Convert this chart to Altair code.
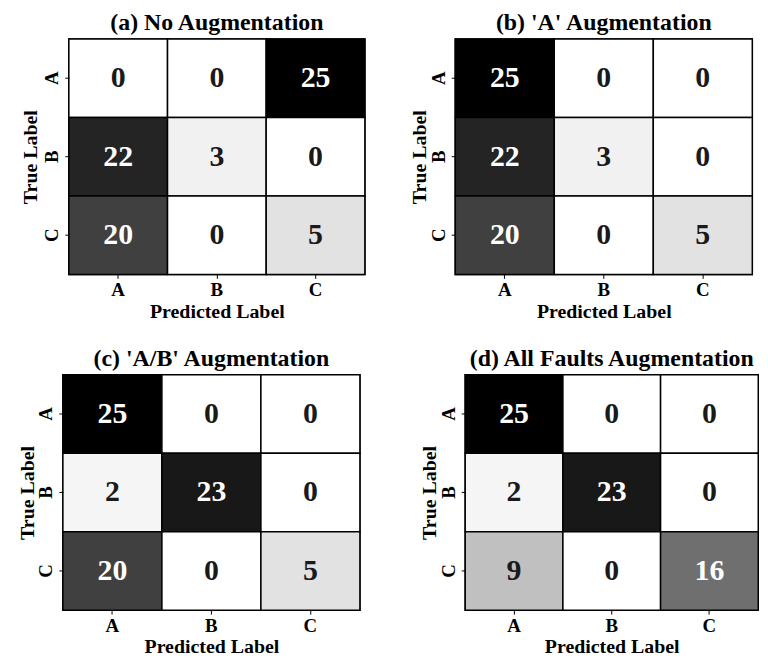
import altair as alt
import pandas as pd

classes = ["A", "B", "C"]
titles = [
    "(a) No Augmentation",
    "(b) 'A' Augmentation",
    "(c) 'A/B' Augmentation",
    "(d) All Faults Augmentation",
]
cm_a = [[0, 0, 25], [22, 3, 0], [20, 0, 5]]
cm_b = [[25, 0, 0], [22, 3, 0], [20, 0, 5]]
cm_c = [[25, 0, 0], [2, 23, 0], [20, 0, 5]]
cm_d = [[25, 0, 0], [2, 23, 0], [9, 0, 16]]

greys = ["#ffffff", "#f0f0f0", "#d9d9d9", "#bdbdbd", "#969696",
         "#737373", "#525252", "#252525", "#000000"]
vmin, vmax = 0, 25
stops = [vmin + (vmax - vmin) * k / 8 for k in range(9)]
thresh = (vmin + vmax) / 2

FONT = "Liberation Serif"


def panel(cm, title, w, h=237, ytitle_pad=0):
    rows = []
    for i in range(3):
        for j in range(3):
            rows.append({"true": classes[i], "pred": classes[j], "value": cm[i][j]})
    df = pd.DataFrame(rows)
    base = alt.Chart(df).encode(
        x=alt.X("pred:N", sort=classes, title="Predicted Label",
                scale=alt.Scale(paddingInner=0, paddingOuter=0),
                axis=alt.Axis(labelAngle=0, orient="bottom",
                              labelPadding=2, titlePadding=2)),
        y=alt.Y("true:N", sort=classes, title="True Label",
                scale=alt.Scale(paddingInner=0, paddingOuter=0),
                axis=alt.Axis(labelAngle=270, labelAlign="center",
                              labelBaseline="bottom", titlePadding=ytitle_pad)),
    )
    rect = base.mark_rect(stroke="black", strokeWidth=1.5).encode(
        color=alt.Color("value:Q",
                        scale=alt.Scale(domain=stops, range=greys, interpolate="rgb"),
                        legend=None)
    )
    text = base.mark_text(font=FONT, fontWeight="bold", fontSize=30,
                          baseline="middle", align="center").encode(
        text="value:Q",
        color=alt.condition(alt.datum.value > thresh,
                            alt.value("white"), alt.value("#1a1a1a")),
    )
    return alt.layer(rect, text).properties(
        width=w, height=h,
        title=alt.TitleParams(title, font=FONT, fontWeight="bold", fontSize=24,
                              color="black", anchor="middle", offset=3),
    )


row1 = alt.hconcat(panel(cm_a, titles[0], 298, ytitle_pad=3),
                   panel(cm_b, titles[1], 299), spacing=42)
row2 = alt.hconcat(panel(cm_c, titles[2], 299),
                   panel(cm_d, titles[3], 295), spacing=57)

chart = alt.vconcat(row1, row2, spacing=24, center=True).properties(
    padding={"left": 8, "top": 0, "right": 0, "bottom": 0}
).configure_view(
    stroke="black", strokeWidth=1.5
).configure_axis(
    labelFont=FONT, titleFont=FONT, labelFontWeight="bold", titleFontWeight="bold",
    labelFontSize=19, titleFontSize=20, labelColor="black", titleColor="black",
    tickColor="black", tickSize=4, tickWidth=1, labelPadding=3,
    titlePadding=0, domain=False, grid=False,
)

chart.save("out.html", embed_options={"renderer": "svg", "actions": False})
